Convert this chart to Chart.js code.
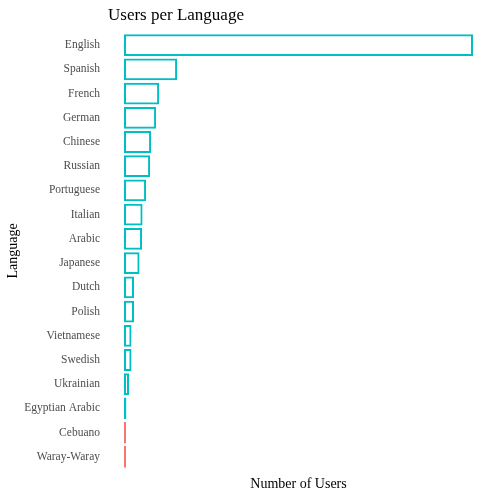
<!DOCTYPE html>
<html>
<head>
<meta charset="utf-8">
<script src="https://cdn.jsdelivr.net/npm/chart.js@4/dist/chart.umd.min.js"></script>
<style>
  html, body { margin: 0; padding: 0; background: #fff; }
  #wrap { width: 498px; height: 498px; }
</style>
</head>
<body>
<div id="wrap"><canvas id="langChart"></canvas></div>
<script>
// values (millions of users, estimated)
let languages = ["English", "Spanish", "French", "German", "Chinese", "Russian",
  "Portuguese", "Italian", "Arabic", "Japanese", "Dutch", "Polish",
  "Vietnamese", "Swedish", "Ukrainian", "Egyptian Arabic", "Cebuano", "Waray-Waray"];
let users = [46.0, 7.0, 4.63, 4.23, 3.57, 3.44, 2.91, 2.45, 2.38, 2.05, 1.32, 1.32,
  0.99, 0.99, 0.66, 0.32, 0.27, 0.27];
let group = ["human", "human", "human", "human", "human", "human", "human", "human",
  "human", "human", "human", "human", "human", "human", "human", "human", "bot", "bot"];

let groupColor = { human: "#00BFC4", bot: "#F8766D" };
let serif = "'Liberation Serif', 'DejaVu Serif', serif";

// title sits at the left edge of the panel, like ggplot
let titlePlugin = {
  id: "leftTitle",
  afterDraw(chart) {
    let ctx = chart.ctx;
    ctx.save();
    ctx.font = "17px " + serif;
    ctx.fillStyle = "#000";
    ctx.textAlign = "left";
    ctx.textBaseline = "alphabetic";
    ctx.fillText("Users per Language", 108, 20);
    ctx.restore();
  }
};

new Chart(document.getElementById("langChart"), {
  type: "bar",
  data: {
    labels: languages,
    datasets: [{
      data: users,
      backgroundColor: "rgba(0,0,0,0)",
      borderColor: group.map(g => groupColor[g]),
      borderWidth: 2,
      borderSkipped: false,
      categoryPercentage: 0.9,
      barPercentage: 1.0
    }]
  },
  options: {
    indexAxis: "y",
    responsive: true,
    maintainAspectRatio: false,
    animation: false,
    layout: { padding: { top: 33, right: 25, bottom: 5.6, left: 0 } },
    plugins: {
      legend: { display: false },
      tooltip: { enabled: false },
      title: { display: false }
    },
    scales: {
      x: {
        min: 0,
        max: 46.0,
        grid: { display: false },
        border: { display: false },
        ticks: { display: false },
        title: {
          display: true,
          text: "Number of Users",
          color: "#000",
          font: { family: serif, size: 14 },
          padding: { top: 0, bottom: 0 }
        },
        afterFit(scale) { scale.height = 23.4; }
      },
      y: {
        grid: { display: false },
        border: { display: false },
        ticks: {
          color: "#4D4D4D",
          font: { family: serif, size: 11.5 },
          padding: 16,
          autoSkip: false
        },
        title: {
          display: true,
          text: "Language",
          color: "#000",
          font: { family: serif, size: 14 },
          padding: { top: 5, bottom: 0 }
        },
        afterFit(scale) { scale.width = 124; }
      }
    }
  },
  plugins: [titlePlugin]
});
</script>
</body>
</html>
